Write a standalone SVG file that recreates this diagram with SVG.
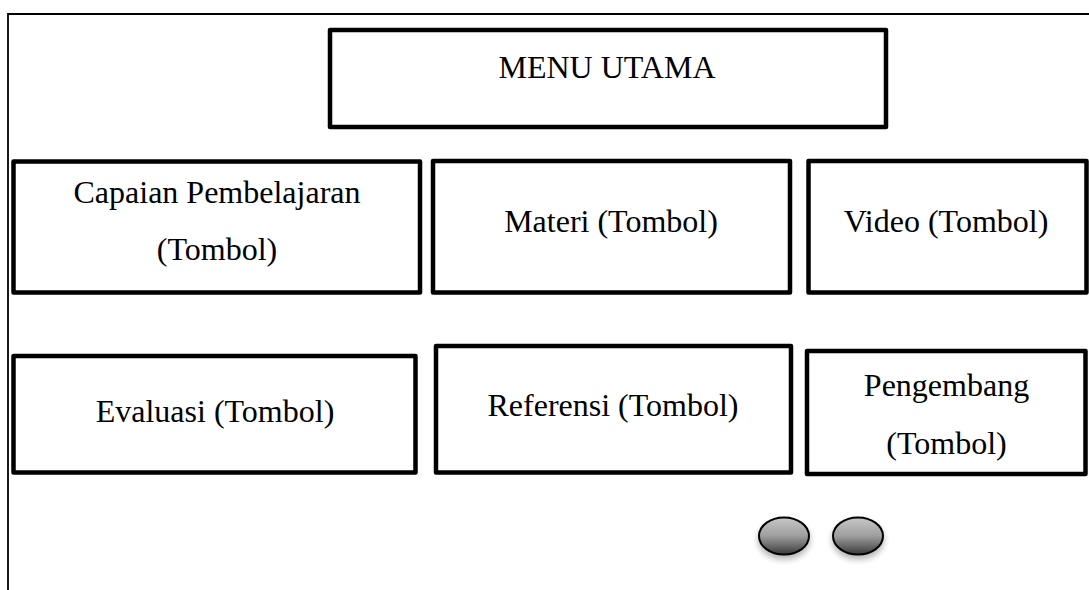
<svg xmlns="http://www.w3.org/2000/svg" width="1089" height="590" viewBox="0 0 1089 590">
<style>
.box{fill:#fff;stroke:#000;stroke-width:4.5;stroke-linejoin:round}
.t{font-family:"Liberation Serif","Times New Roman",serif;font-size:32px;fill:#000;text-anchor:middle}
.frame{fill:none;stroke:#000;stroke-width:1.8}
.btn{fill:url(#g);stroke:#000;stroke-width:2}
</style>
<defs>
<linearGradient id="g" x1="0" y1="0" x2="0" y2="1">
<stop offset="0" stop-color="#c8c8c8"/>
<stop offset="0.5" stop-color="#9e9e9e"/>
<stop offset="1" stop-color="#3a3a3a"/>
</linearGradient>
<filter id="sh" x="-30%" y="-30%" width="160%" height="180%">
<feGaussianBlur in="SourceAlpha" stdDeviation="3"/>
<feOffset dx="0" dy="4" result="b"/>
<feComponentTransfer><feFuncA type="linear" slope="0.3"/></feComponentTransfer>
<feMerge><feMergeNode/><feMergeNode in="SourceGraphic"/></feMerge>
</filter>
</defs>
<g id="frame">
<path class="frame" d="M8,590 V14 H1089"/>
</g>
<g id="menu-utama">
<rect class="box" x="330" y="30" width="556" height="97"/>
<text class="t" x="607" y="78">MENU UTAMA</text>
</g>
<g id="capaian">
<rect class="box" x="13.5" y="161.5" width="406.5" height="131"/>
<text class="t" x="217" y="203">Capaian Pembelajaran</text>
<text class="t" x="217" y="260">(Tombol)</text>
</g>
<g id="materi">
<rect class="box" x="433" y="161" width="357" height="131.5"/>
<text class="t" x="611" y="232">Materi (Tombol)</text>
</g>
<g id="video">
<rect class="box" x="808.5" y="161" width="278" height="131.5"/>
<text class="t" x="946" y="232">Video (Tombol)</text>
</g>
<g id="evaluasi">
<rect class="box" x="13.5" y="356" width="402" height="116.5"/>
<text class="t" x="215" y="422">Evaluasi (Tombol)</text>
</g>
<g id="referensi">
<rect class="box" x="436" y="346" width="355" height="126.5"/>
<text class="t" x="613" y="416">Referensi (Tombol)</text>
</g>
<g id="pengembang">
<rect class="box" x="807" y="351" width="278.5" height="123"/>
<text class="t" x="946.5" y="396">Pengembang</text>
<text class="t" x="946.5" y="454">(Tombol)</text>
</g>
<g id="tombol-navigasi">
<ellipse class="btn" filter="url(#sh)" cx="784" cy="536" rx="25" ry="18.5"/>
<ellipse class="btn" filter="url(#sh)" cx="858" cy="536" rx="25" ry="18.5"/>
</g>
<g id="connectors"/>
</svg>
